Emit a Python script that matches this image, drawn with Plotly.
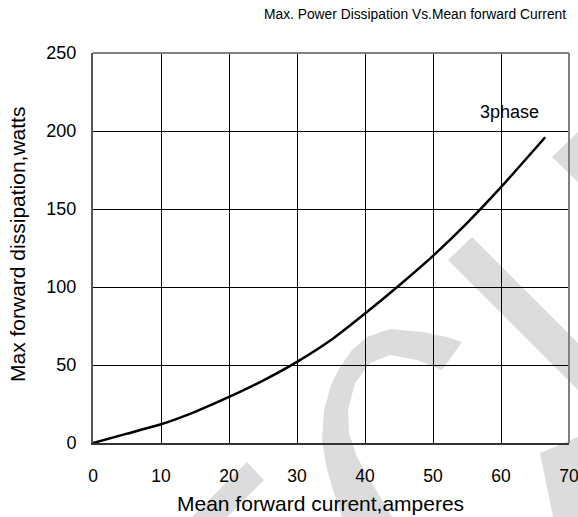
import plotly.graph_objects as go

# ---- data ----
current_amps = [0, 5, 10, 15, 20, 25, 30, 35, 40, 45, 50, 55, 60, 66.5]
power_watts = [0, 6, 12, 20, 29.5, 40, 52, 66, 83, 101, 120, 141, 164, 196]
x_ticks = [0, 10, 20, 30, 40, 50, 60, 70]
y_ticks = [0, 50, 100, 150, 200, 250]

title_text = "Max. Power Dissipation Vs.Mean forward Current"
x_title = "Mean forward current,amperes"
y_title = "Max forward dissipation,watts"
curve_label = "3phase"

W, H = 578, 517
L, R, T, B = 93, 9, 53, 74
PW, PH = W - L - R, H - T - B
FONT = "Arial, 'Liberation Sans', sans-serif"


def px(x, y):
    return (x - L) / PW, (H - B - y) / PH


def path(pts):
    s = []
    for i, (x, y) in enumerate(pts):
        a, b = px(x, y)
        s.append(("M" if i == 0 else "L") + f"{a:.4f},{b:.4f}")
    return " ".join(s) + " Z"


# watermark geometry (pixel outline)
wm_c = [(342, 517), (333, 490), (326, 465), (322, 440), (324, 410), (331, 385), (340, 367),
        (352, 350), (367, 337), (390, 329), (423, 332), (447, 337), (462, 342),
        (442, 370), (417, 360), (390, 355), (370, 363), (355, 383), (348, 410),
        (349, 433), (357, 457), (370, 480), (385, 505), (392, 517)]
wm_left = [(247, 462), (264, 480), (227, 517), (192, 517)]
wm_diag = [(448, 260), (472, 237), (578, 343), (578, 390)]
wm_br = [(540, 453), (578, 437), (578, 517), (553, 517)]
wm_tip = [(552, 157), (578, 132), (578, 182)]

fig = go.Figure()
fig.add_trace(go.Scatter(
    x=current_amps, y=power_watts, mode="lines",
    line=dict(color="black", width=2.5, shape="spline", smoothing=0.6),
    showlegend=False, hoverinfo="skip"))

shapes = []
for poly in [wm_c, wm_left, wm_diag, wm_br, wm_tip]:
    shapes.append(dict(type="path", path=path(poly), xref="paper", yref="paper",
                       fillcolor="#dcdcdc", line=dict(width=0), layer="below"))
# gray top/right frame
shapes.append(dict(type="line", xref="paper", yref="paper", x0=0, x1=1, y0=1, y1=1,
                   line=dict(color="#808080", width=2)))
shapes.append(dict(type="line", xref="paper", yref="paper", x0=1, x1=1, y0=0, y1=1,
                   line=dict(color="#808080", width=2)))

fig.update_layout(
    width=W, height=H,
    margin=dict(l=L, r=R, t=T, b=B, pad=0, autoexpand=False),
    paper_bgcolor="white", plot_bgcolor="rgba(0,0,0,0)",
    font=dict(family=FONT, size=18, color="black"),
    shapes=shapes,
    annotations=[
        dict(text=title_text, xref="paper", yref="paper", x=px(415, 0)[0], y=px(0, 15)[1],
             xanchor="center", yanchor="middle", showarrow=False,
             font=dict(size=13.8)),
        dict(text=curve_label, x=61.3, y=212, xref="x", yref="y", showarrow=False,
             xanchor="center", yanchor="middle", font=dict(size=18)),
        dict(text=x_title, xref="paper", yref="paper", x=px(320, 0)[0], y=px(0, 504)[1],
             xanchor="center", yanchor="middle", showarrow=False, font=dict(size=21)),
        dict(text=y_title, xref="paper", yref="paper", x=px(17, 0)[0], y=px(0, 245)[1],
             xanchor="center", yanchor="middle", showarrow=False, textangle=-90,
             font=dict(size=21)),
    ],
    xaxis=dict(range=[0, 70], tickvals=x_ticks, showgrid=True, gridcolor="black",
               gridwidth=1, zeroline=False, showline=True, linecolor="#333333",
               linewidth=2, ticks="outside", ticklen=16, tickcolor="rgba(0,0,0,0)",
               tickfont=dict(size=17.5), ticklabeloverflow="allow", automargin=False),
    yaxis=dict(range=[0, 250], tickvals=y_ticks, showgrid=True, gridcolor="black",
               gridwidth=1, zeroline=False, showline=True, linecolor="#555555",
               linewidth=2, ticks="outside", ticklen=11, tickcolor="rgba(0,0,0,0)",
               tickfont=dict(size=18), automargin=False),
)

fig.write_html("out.html", config={"displayModeBar": False},
               post_script="document.body.style.margin='0';")
